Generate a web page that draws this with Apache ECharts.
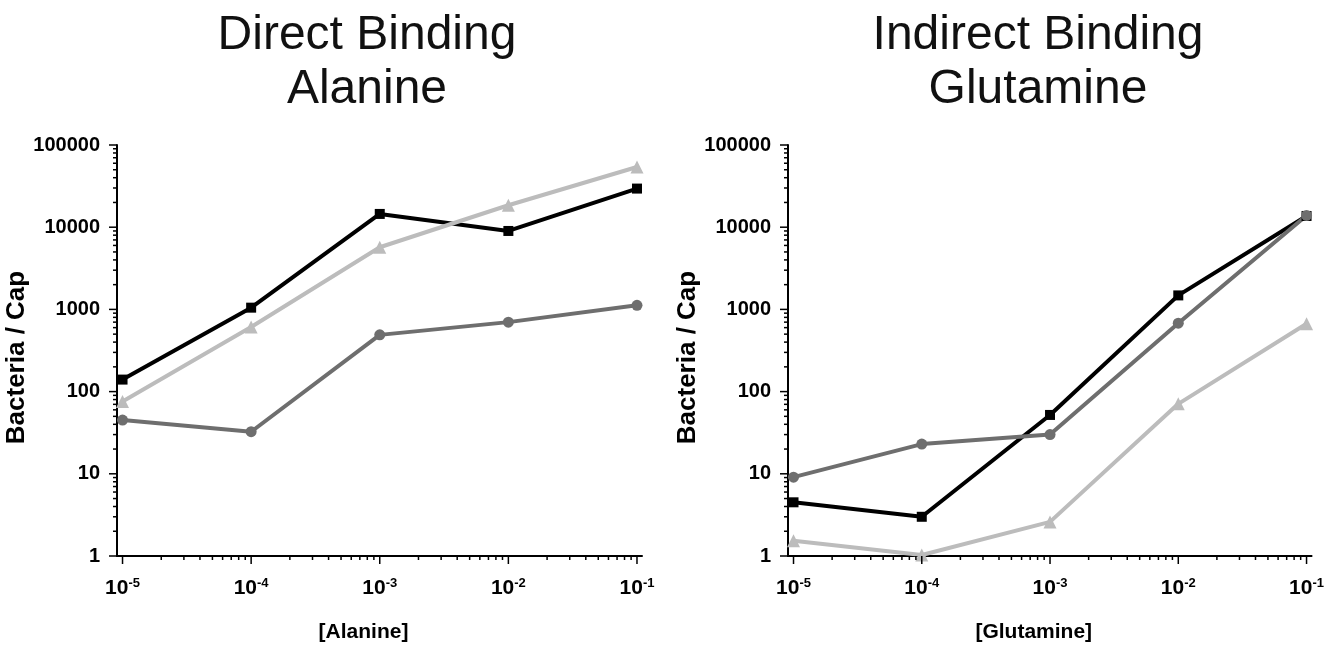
<!DOCTYPE html>
<html lang="en">
<head>
<meta charset="UTF-8">
<title>Direct / Indirect Binding</title>
<style>
    html, body { margin: 0; padding: 0; background: #fff; }
    #chart { width: 1327px; height: 648px; }
</style>
</head>
<body>
<div id="chart"></div>
<script src="https://cdn.jsdelivr.net/npm/echarts@6/dist/echarts.min.js"></script>
<script>
    // concentrations (M), shared by both panels
    const concentrations = [1e-5, 1e-4, 1e-3, 1e-2, 1e-1];

    // Direct binding - alanine (bacteria / cap)
    const alanineBlack = [140, 1050, 14500, 9000, 29500];
    const alanineLight = [76, 610, 5700, 18500, 54000];
    const alanineDark = [45, 32.5, 490, 700, 1120];

    // Indirect binding - glutamine (bacteria / cap)
    const glutamineBlack = [4.5, 3.0, 52, 1480, 13700];
    const glutamineLight = [1.53, 1.03, 2.6, 71, 670];
    const glutamineDark = [9.1, 23, 30, 680, 13900];

    const panelTitles = ['Direct Binding\nAlanine', 'Indirect Binding\nGlutamine'];
    const xNames = ['[Alanine]', '[Glutamine]'];
    const yName = 'Bacteria / Cap';
    const xMajor = [1e-5, 1e-4, 1e-3, 1e-2, 1e-1];
    const yMajor = [1, 10, 100, 1000, 10000, 100000];

    const FONT = 'Liberation Sans, Arial, sans-serif';
    const XMIN = Math.pow(10, -5.043);
    const XMAX = Math.pow(10, -0.961);
    const gridLeft = [117, 788];
    const titleCenter = [367, 1038];

    // minor ticks 2..9 inside every decade
    function minorOf(majors) {
        let out = [];
        for (let i = 0; i < majors.length - 1; i++) {
            for (let k = 2; k <= 9; k++) out.push(k * majors[i]);
        }
        return out;
    }

    function isPow10(v) {
        const e = Math.log10(v);
        return Math.abs(e - Math.round(e)) < 1e-6;
    }

    /* tick marks drawn through the axis scale */
    function tickSeries(gi, dir) {
        let data = [];
        if (dir === 'x') {
            xMajor.forEach(v => data.push([v, 1, 8]));
            minorOf(xMajor).forEach(v => data.push([v, 1, 4]));
        } else {
            yMajor.forEach(v => data.push([XMIN, v, 8]));
            minorOf(yMajor).forEach(v => data.push([XMIN, v, 4]));
        }
        return {
            type: 'custom',
            xAxisIndex: gi,
            yAxisIndex: gi,
            silent: true,
            clip: false,
            z: 6,
            data: data,
            renderItem: function (params, api) {
                const p = api.coord([api.value(0), api.value(1)]);
                const len = api.value(2);
                const shape = dir === 'x'
                    ? { x1: p[0], y1: p[1], x2: p[0], y2: p[1] + len }
                    : { x1: p[0] - len, y1: p[1], x2: p[0], y2: p[1] };
                return { type: 'line', shape: shape, style: { stroke: '#000', lineWidth: 1.5 } };
            }
        };
    }

    function lineSeries(gi, values, color, symbol, size) {
        return {
            type: 'line',
            xAxisIndex: gi,
            yAxisIndex: gi,
            data: concentrations.map((c, i) => [c, values[i]]),
            symbol: symbol,
            symbolSize: size,
            showAllSymbol: true,
            lineStyle: { color: color, width: 4 },
            itemStyle: { color: color },
            z: 3
        };
    }

    let chart = echarts.init(document.getElementById('chart'));

    let option = {
        animation: false,
        title: panelTitles.map((t, i) => ({
            text: t,
            left: titleCenter[i],
            top: 9,
            padding: 0,
            textAlign: 'center',
            textStyle: { fontFamily: FONT, fontSize: 48, fontWeight: 'normal', lineHeight: 54, color: '#111' }
        })),
        grid: gridLeft.map(l => ({ left: l, top: 145, width: 525, height: 420 })),
        xAxis: [0, 1].map(i => ({
            type: 'log',
            logBase: 10,
            gridIndex: i,
            min: XMIN,
            max: XMAX,
            name: xNames[i],
            nameLocation: 'middle',
            nameGap: 66,
            nameTextStyle: {
                fontFamily: FONT, fontSize: 21, fontWeight: 'bold', color: '#000',
                padding: [0, 32, 0, 0]
            },
            axisLine: { lineStyle: { color: '#000', width: 2 } },
            axisTick: { show: false },
            splitLine: { show: false },
            axisLabel: {
                margin: 21,
                formatter: function (v) {
                    if (!isPow10(v)) return '';
                    return '{b|10}{s|' + Math.round(Math.log10(v)) + '}';
                },
                rich: {
                    b: { fontFamily: FONT, fontSize: 21, fontWeight: 'bold', color: '#000', lineHeight: 22 },
                    s: { fontFamily: FONT, fontSize: 13, fontWeight: 'bold', color: '#000', verticalAlign: 'top', lineHeight: 12 }
                }
            }
        })),
        yAxis: [0, 1].map(i => ({
            type: 'log',
            logBase: 10,
            gridIndex: i,
            min: 1,
            max: 100000,
            name: yName,
            nameLocation: 'middle',
            nameGap: 83,
            nameTextStyle: {
                fontFamily: FONT, fontSize: 26, fontWeight: 'bold', color: '#000',
                padding: [0, 14, 0, 0]
            },
            axisLine: { lineStyle: { color: '#000', width: 2 } },
            axisTick: { show: false },
            splitLine: { show: false },
            axisLabel: {
                margin: 17,
                fontFamily: FONT,
                fontSize: 20,
                fontWeight: 'bold',
                color: '#000',
                formatter: v => (isPow10(v) ? String(Math.round(v)) : '')
            }
        })),
        series: [
            lineSeries(0, alanineBlack, '#000000', 'rect', 10),
            lineSeries(0, alanineLight, '#bcbcbc', 'triangle', 13),
            lineSeries(0, alanineDark, '#6e6e6e', 'circle', 11),
            lineSeries(1, glutamineBlack, '#000000', 'rect', 10),
            lineSeries(1, glutamineLight, '#bcbcbc', 'triangle', 13),
            lineSeries(1, glutamineDark, '#6e6e6e', 'circle', 11),
            tickSeries(0, 'x'), tickSeries(0, 'y'),
            tickSeries(1, 'x'), tickSeries(1, 'y')
        ]
    };

    chart.setOption(option);
</script>
</body>
</html>
